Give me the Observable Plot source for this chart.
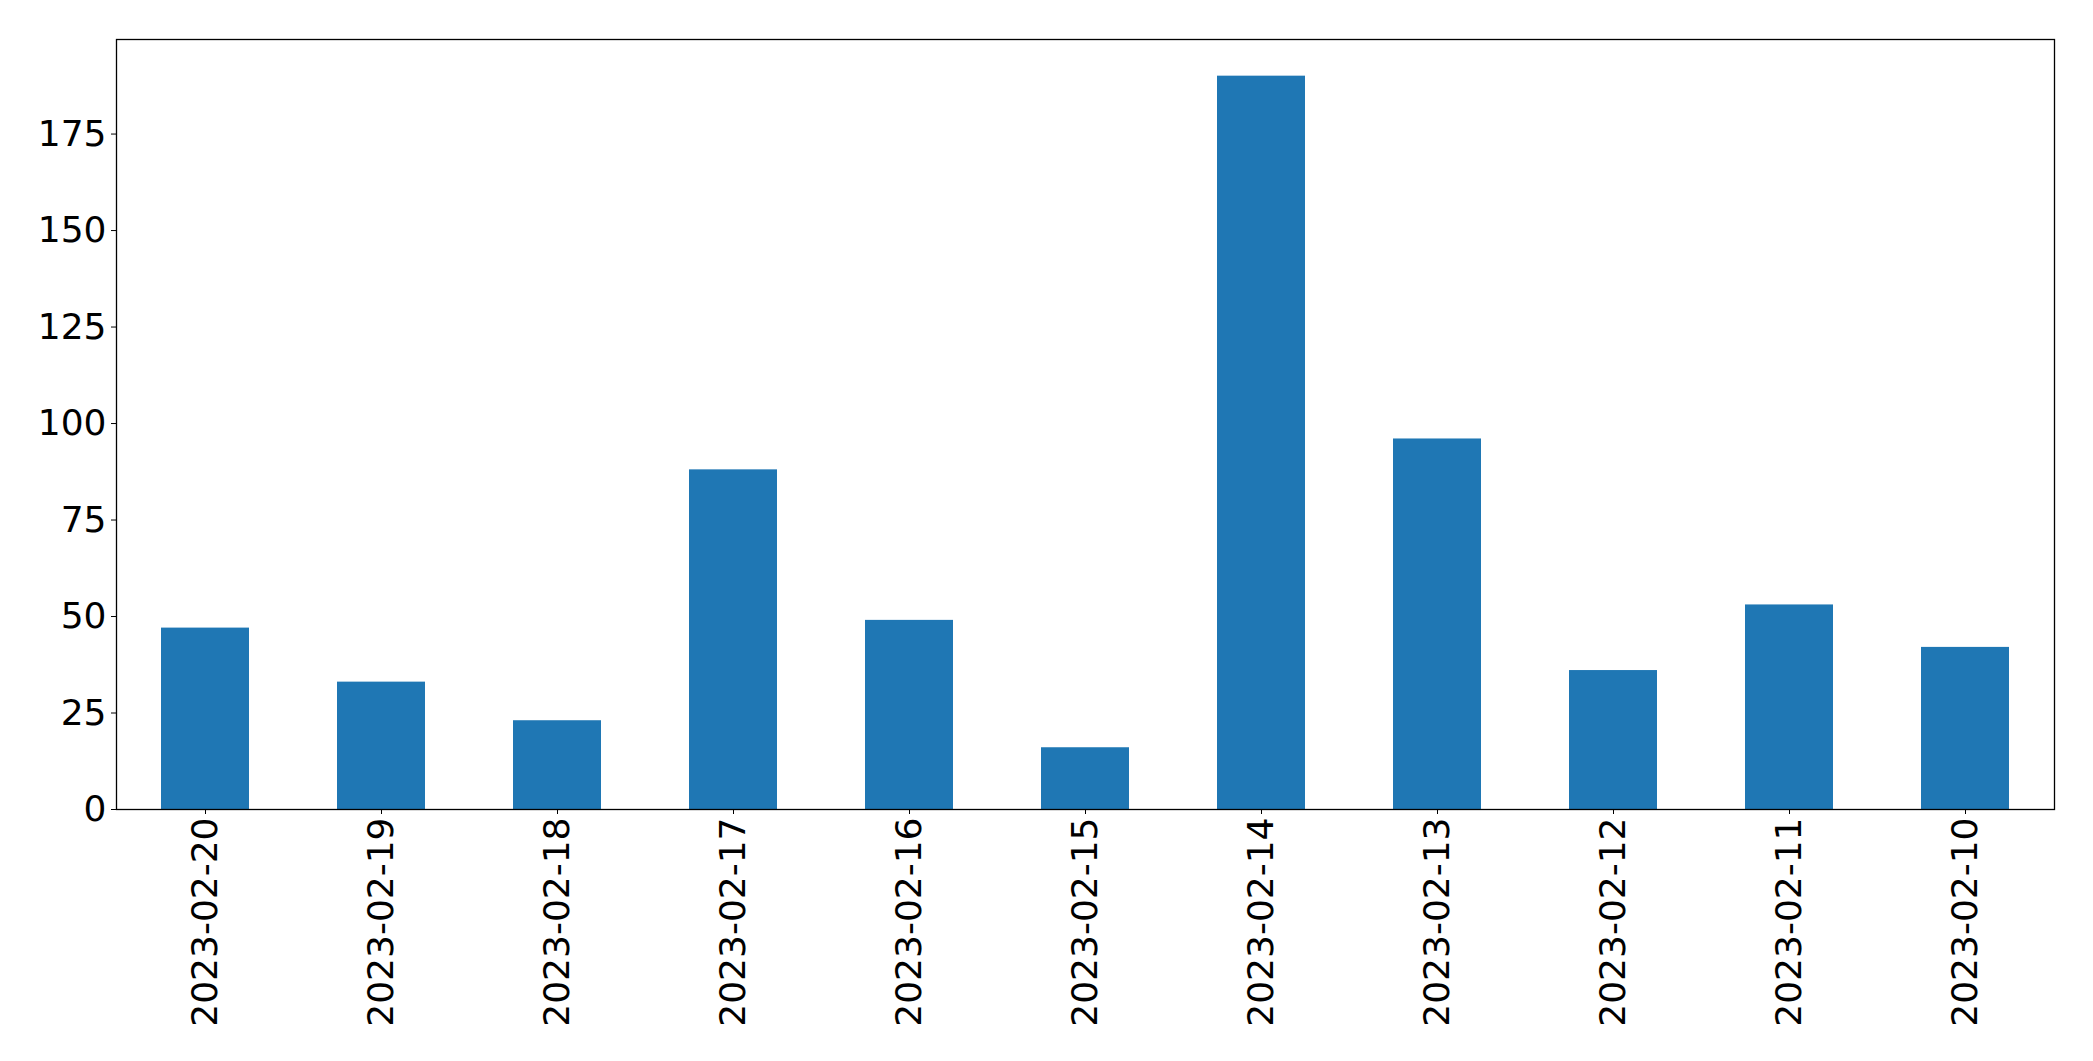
<!DOCTYPE html>
<html>
<head>
<meta charset="utf-8">
<script src="https://cdn.jsdelivr.net/npm/d3@7"></script>
<script src="https://cdn.jsdelivr.net/npm/@observablehq/plot@0.6"></script>
<style>
  html, body { margin: 0; padding: 0; background: #fff; }
  #chart svg { display: block; }
</style>
</head>
<body>
<div id="chart"></div>
<script>
const dates = ["2023-02-20","2023-02-19","2023-02-18","2023-02-17","2023-02-16","2023-02-15","2023-02-14","2023-02-13","2023-02-12","2023-02-11","2023-02-10"];
const counts = [47, 33, 23, 88, 49, 16, 190, 96, 36, 53, 42];
const yTicks = [0, 25, 50, 75, 100, 125, 150, 175];

const data = dates.map((d, i) => ({date: d, count: counts[i]}));
const yMax = d3.max(counts) * 1.05;

const chart = Plot.plot({
  width: 2093,
  height: 1061,
  marginLeft: 116,
  marginRight: 39,
  marginTop: 39,
  marginBottom: 252,
  style: {fontFamily: "DejaVu Sans", color: "black", background: "white"},
  x: {type: "band", domain: dates, paddingInner: 0.5, paddingOuter: 0.25},
  y: {domain: [0, yMax]},
  marks: [
    Plot.barY(data, {x: "date", y: "count", fill: "#1f77b4"}),
    Plot.axisY({ticks: yTicks, tickSize: 5, tickPadding: 5, fontSize: 36, label: null}),
    Plot.axisX({tickRotate: -90, tickSize: 5, tickPadding: 3, fontSize: 36, label: null}),
    Plot.frame({stroke: "black", strokeWidth: 1.3})
  ]
});
document.getElementById("chart").appendChild(chart);
</script>
</body>
</html>
